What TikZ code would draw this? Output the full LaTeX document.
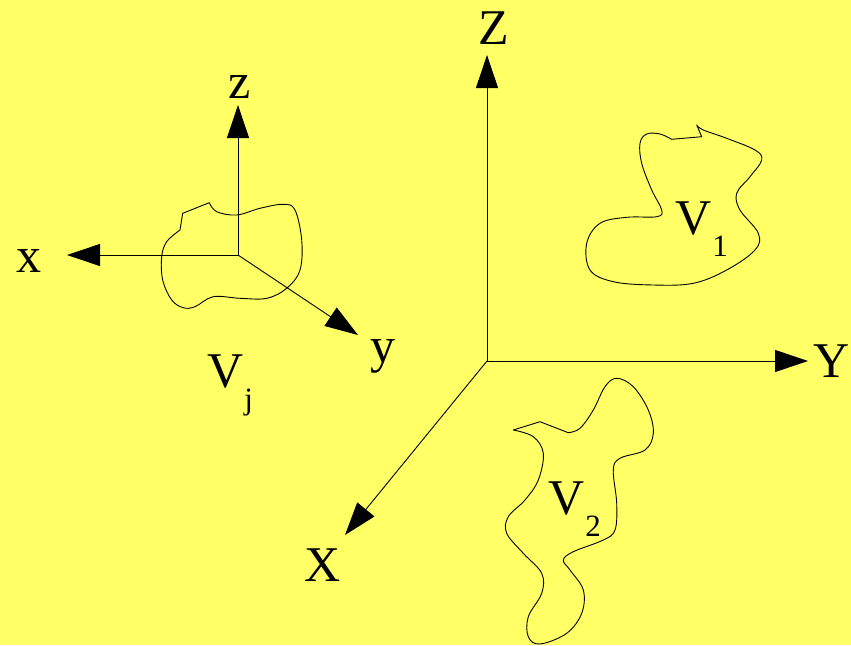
\documentclass[tikz,border=0pt]{standalone}
\usepackage{fontspec}
\setmainfont{Liberation Serif}
\usetikzlibrary{arrows.meta}
\definecolor{bgyellow}{RGB}{255,255,102}
\newcommand{\vsub}[1]{V\kern1pt\raisebox{-22pt}{\fontsize{31}{31}\selectfont #1}}

\begin{document}
\begin{tikzpicture}[x=1pt,y=-1pt,
  axis/.style={-{Triangle[length=33pt,width=22pt]},line width=0.9pt},
  lab/.style={anchor=base,inner sep=0pt,font=\fontsize{50}{50}\selectfont},
  vlab/.style={anchor=base west,inner sep=0pt,font=\fontsize{50}{50}\selectfont},
  blob/.style={line width=0.9pt,line join=round}]
\fill[bgyellow] (0,0) rectangle (851,645);
\useasboundingbox (0,0) rectangle (851,645);
% big frame
\coordinate (O) at (487,361);
\coordinate (Zt) at (487,55);
\coordinate (Yt) at (808,361);
\coordinate (Xt) at (345,535);
\draw[axis] (O) -- (Zt);
\draw[axis] (O) -- (Yt);
\draw[axis] (O) -- (Xt);
\node[lab] (Z) at (494,44) {Z};
\node[lab] (Y) at (832,377) {Y};
\node[lab] (X) at (323,581) {X};
% small frame
\coordinate (o) at (238,255);
\coordinate (zt) at (238,105);
\coordinate (xt) at (67,255);
\coordinate (yt) at (358,335);
\draw[axis] (o) -- (zt);
\draw[axis] (o) -- (xt);
\draw[axis] (o) -- (yt);
\node[lab] (z) at (240,98) {z};
\node[lab] (x) at (29,272) {x};
\node[lab] (y) at (383,362) {y};
% volume j
\draw[blob] (180,230) -- (182.7,213.3) -- (209.3,202.7)
  -- plot[smooth,tension=0.6] coordinates {(209.3,202.7) (216.7,211.7) (236.7,215) (260,208.3)
  (283.3,204.3) (295,210) (301.7,240) (300,270) (286.7,288.3) (266.7,298.3) (240,298.3)
  (213.3,296.7) (195,306.7) (183.3,307.7) (171.7,300) (162.7,280) (161.7,256.7)
  (166.7,241.7) (180,230)} -- cycle;
\node[vlab] (Vj) at (207,387) {\vsub{j}};
% volume 1
\draw[blob] (696.7,125) -- (701.7,136.7) -- (671.7,139.3)
  -- plot[smooth,tension=0.6] coordinates {(671.7,139.3) (660,134) (646.7,134) (640,143.3)
  (641.7,163.3) (651.7,190) (661.7,210) (656.7,216.7) (626.7,217.3) (600,223.3)
  (586.7,243.3) (590,270) (613.3,281.7) (653.3,285) (693.3,283.3) (726.7,270)
  (755,250) (758.3,233.3) (740,210) (736.7,193.3) (750,176.7) (761.7,160) (755,150)
  (726.7,138.3) (703.3,130) (696.7,125)} -- cycle;
\node[vlab] (V1) at (675,234) {\vsub{1}};
% volume 2
\draw[blob] (513.3,430) -- (540,421.7) -- (568.3,432.7)
  -- plot[smooth,tension=0.6] coordinates {(568.3,432.7) (580,428.3) (593.3,410) (605,386.7)
  (616.7,378.3) (633.3,386.7) (648.3,410) (653.3,433.3) (645,450) (620,458.3)
  (613.3,470) (616.7,503.3) (615,530) (603.3,540) (573.3,551.7) (563.3,560) (570,570)
  (583.3,590) (581.7,613.3) (566.7,633.3) (540,644) (528.3,636.7) (528.3,616.7)
  (541.7,593.3) (541.7,573.3) (523.3,553.3) (506.7,533.3) (508.3,516.7) (525,500)
  (538.3,480) (543.3,453.3) (533.3,436.7) (513.3,430)} -- cycle;
\node[vlab] (V2) at (548,514) {\vsub{2}};
\end{tikzpicture}
\end{document}
